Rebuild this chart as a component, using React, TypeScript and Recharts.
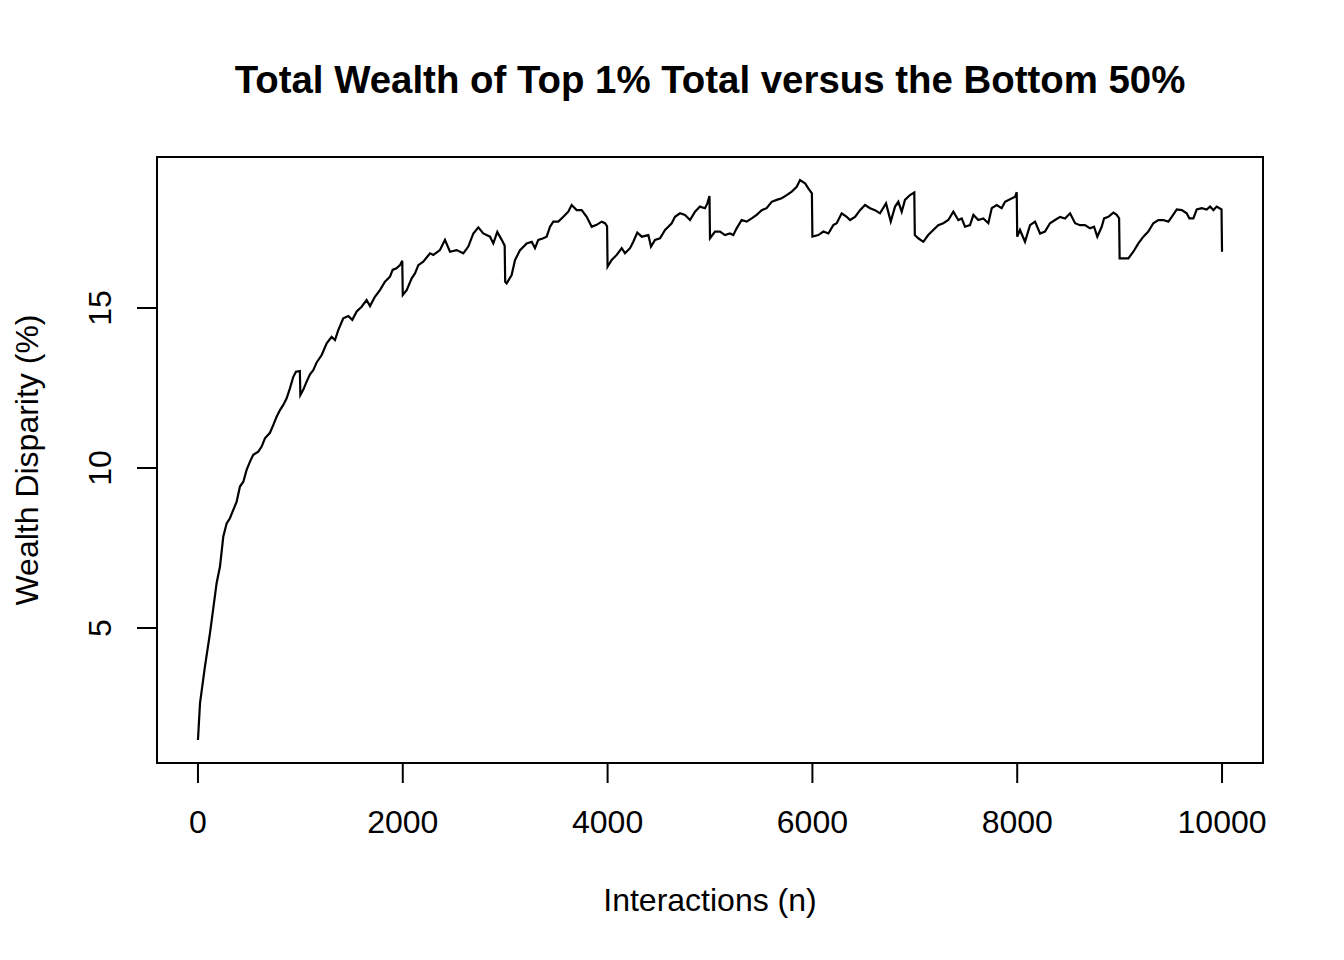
import React from "react";
import { Line, LineChart, ReferenceArea, XAxis, YAxis } from "recharts";

// values, drops every 1000 interactions
const interactions = [
  0, 20, 68, 117, 156, 182, 215, 247, 280, 312, 345, 378, 410, 443, 475, 508, 540, 589, 622, 654,
  703, 735, 768, 801, 833, 866, 898, 931, 957, 995, 1000, 1029, 1061, 1094, 1126, 1159, 1208, 1257,
  1305, 1338, 1370, 1419, 1468, 1507, 1550, 1598, 1647, 1680, 1728, 1777, 1826, 1875, 1901, 1938,
  1973, 1995, 2000, 2038, 2087, 2119, 2152, 2200, 2266, 2298, 2363, 2412, 2461, 2526, 2591, 2640,
  2689, 2738, 2786, 2852, 2884, 2923, 2966, 2995, 3000, 3014, 3063, 3096, 3145, 3210, 3259, 3291,
  3323, 3372, 3405, 3438, 3470, 3519, 3568, 3616, 3649, 3698, 3747, 3796, 3845, 3893, 3942, 3975,
  3995, 4000, 4040, 4089, 4138, 4170, 4219, 4251, 4290, 4333, 4398, 4424, 4463, 4512, 4561, 4593,
  4626, 4658, 4707, 4756, 4805, 4854, 4902, 4951, 4974, 4995, 5000, 5049, 5098, 5146, 5195, 5228,
  5260, 5309, 5358, 5407, 5456, 5505, 5553, 5602, 5651, 5700, 5749, 5798, 5847, 5879, 5928, 5960,
  5995, 6000, 6058, 6107, 6156, 6204, 6237, 6286, 6335, 6367, 6416, 6465, 6514, 6563, 6611, 6660,
  6719, 6765, 6807, 6839, 6872, 6904, 6953, 6995, 7000, 7034, 7083, 7131, 7180, 7229, 7278, 7327,
  7376, 7425, 7458, 7490, 7539, 7572, 7620, 7669, 7718, 7751, 7800, 7848, 7881, 7930, 7979, 7995,
  8000, 8027, 8076, 8125, 8174, 8223, 8271, 8320, 8369, 8418, 8467, 8516, 8565, 8613, 8662, 8711,
  8750, 8782, 8825, 8848, 8890, 8939, 8972, 8995, 9000, 9037, 9085, 9134, 9183, 9232, 9280, 9329,
  9378, 9427, 9476, 9509, 9558, 9607, 9655, 9681, 9720, 9753, 9802, 9850, 9883, 9916, 9948, 9995,
  10000,
];

const disparity = [
  1.5, 2.65, 3.79, 4.83, 5.77, 6.4, 6.92, 7.85, 8.27, 8.43, 8.69, 8.95, 9.42, 9.57, 9.94, 10.2, 10.41,
  10.51, 10.67, 10.93, 11.1, 11.34, 11.6, 11.81, 11.97, 12.18, 12.49, 12.85, 13.01, 13.03, 12.28,
  12.45, 12.7, 12.93, 13.06, 13.3, 13.53, 13.9, 14.1, 14.0, 14.31, 14.68, 14.75, 14.63, 14.89, 15.04,
  15.25, 15.06, 15.35, 15.56, 15.82, 15.98, 16.19, 16.24, 16.34, 16.48, 15.41, 15.56, 15.93, 16.08,
  16.34, 16.45, 16.71, 16.66, 16.81, 17.13, 16.76, 16.81, 16.71, 16.92, 17.33, 17.52, 17.33, 17.23,
  17.02, 17.38, 17.13, 16.95, 15.82, 15.77, 16.03, 16.5, 16.81, 17.02, 17.07, 16.87, 17.13, 17.18,
  17.23, 17.54, 17.7, 17.7, 17.85, 18.01, 18.22, 18.06, 18.06, 17.85, 17.54, 17.6, 17.7, 17.65,
  17.55, 16.29, 16.5, 16.66, 16.87, 16.71, 16.87, 17.07, 17.36, 17.23, 17.28, 16.92, 17.13, 17.18,
  17.44, 17.54, 17.65, 17.85, 17.96, 17.91, 17.75, 18.01, 18.17, 18.12, 18.27, 18.5, 17.18, 17.39,
  17.39, 17.28, 17.33, 17.28, 17.49, 17.75, 17.7, 17.8, 17.91, 18.06, 18.12, 18.32, 18.38, 18.43,
  18.53, 18.64, 18.79, 19.0, 18.9, 18.74, 18.58, 17.23, 17.28, 17.39, 17.33, 17.59, 17.65, 17.96,
  17.85, 17.75, 17.85, 18.06, 18.22, 18.12, 18.06, 17.96, 18.27, 17.7, 18.17, 18.32, 18.01, 18.38,
  18.53, 18.61, 17.28, 17.18, 17.07, 17.28, 17.44, 17.59, 17.65, 17.75, 18.01, 17.75, 17.8, 17.54,
  17.59, 17.91, 17.75, 17.8, 17.65, 18.12, 18.22, 18.12, 18.32, 18.4, 18.48, 18.62, 17.23, 17.44,
  17.07, 17.59, 17.7, 17.33, 17.39, 17.65, 17.75, 17.85, 17.8, 17.96, 17.65, 17.59, 17.59, 17.49,
  17.54, 17.23, 17.54, 17.8, 17.85, 17.98, 17.91, 17.8, 16.55, 16.55, 16.55, 16.76, 17.02, 17.23,
  17.39, 17.65, 17.75, 17.75, 17.7, 17.85, 18.08, 18.06, 17.96, 17.8, 17.8, 18.08, 18.12, 18.08,
  18.17, 18.06, 18.17, 18.08, 16.76,
];

const xTicks = [0, 2000, 4000, 6000, 8000, 10000];
const yTicks = [5, 10, 15];

const data = interactions.map((n, i) => ({ n, pct: disparity[i] }));

const FONT = "'Liberation Sans', Arial, sans-serif";

const XTick = ({ x, y, payload }: any) => (
  <text x={x} y={y + 37} textAnchor="middle" dominantBaseline="central" fontSize={32} fontFamily={FONT} fill="#000">
    {payload.value}
  </text>
);

const YTick = ({ x, y, payload }: any) => (
  <text
    x={x - 35}
    y={y}
    transform={`rotate(-90, ${x - 35}, ${y})`}
    textAnchor="middle"
    dominantBaseline="central"
    fontSize={32}
    fontFamily={FONT}
    fill="#000"
  >
    {payload.value}
  </text>
);

export default function App() {
  return (
    <div style={{ position: "absolute", left: 0, top: 0, width: 1344, height: 960, background: "#fff", fontFamily: FONT }}>
      <LineChart width={1344} height={960} data={data} margin={{ top: 157, right: 81, bottom: 137, left: 97 }}>
        <XAxis
          dataKey="n"
          type="number"
          domain={[-400, 10400]}
          allowDataOverflow
          ticks={xTicks}
          interval={0}
          axisLine={false}
          tickSize={20}
          tickLine={{ stroke: "#000", strokeWidth: 2 }}
          tick={<XTick />}
          height={60}
        />
        <YAxis
          type="number"
          domain={[0.78, 19.72]}
          allowDataOverflow
          ticks={yTicks}
          interval={0}
          axisLine={false}
          tickSize={20}
          tickLine={{ stroke: "#000", strokeWidth: 2 }}
          tick={<YTick />}
          width={60}
        />
        <ReferenceArea x1={-400} x2={10400} y1={0.78} y2={19.72} fill="none" stroke="#000" strokeWidth={2} ifOverflow="visible" />
        <Line type="linear" dataKey="pct" stroke="#000" strokeWidth={2.2} dot={false} isAnimationActive={false} />
      </LineChart>
      <div style={{ position: "absolute", left: 0, width: 1420, top: 58, textAlign: "center", fontSize: 38.4, fontWeight: "bold", lineHeight: "44px" }}>
        Total Wealth of Top 1% Total versus the Bottom 50%
      </div>
      <div style={{ position: "absolute", left: 0, width: 1420, top: 881, textAlign: "center", fontSize: 32, lineHeight: "38px" }}>
        Interactions (n)
      </div>
      <div
        style={{
          position: "absolute",
          left: 27 - 200,
          top: 460 - 19,
          width: 400,
          textAlign: "center",
          fontSize: 32,
          lineHeight: "38px",
          transform: "rotate(-90deg)",
        }}
      >
        Wealth Disparity (%)
      </div>
    </div>
  );
}
